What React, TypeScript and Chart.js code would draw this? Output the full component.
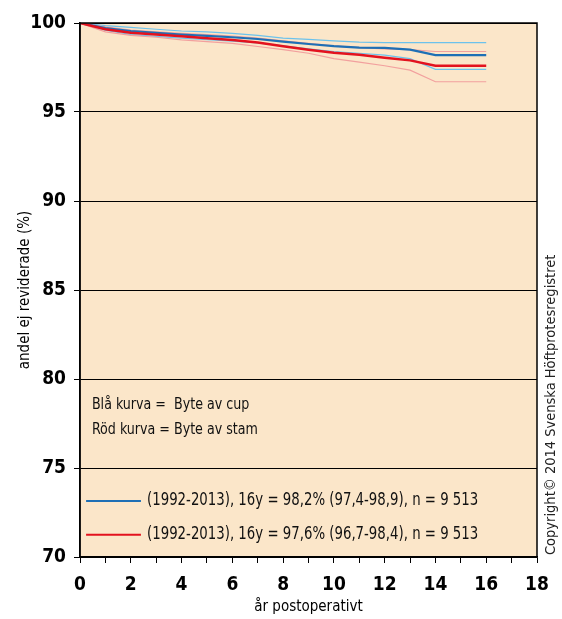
import React, { useEffect, useRef } from "react";
import { Chart, registerables } from "chart.js";

Chart.register(...registerables);

const years = [0, 1, 2, 3, 4, 5, 6, 7, 8, 9, 10, 11, 12, 13, 14, 15, 16];
const blueMain = [100, 99.72, 99.55, 99.45, 99.35, 99.28, 99.2, 99.1, 98.95, 98.82, 98.7, 98.62, 98.6, 98.5, 98.2, 98.2, 98.2];
const blueUpper = [100, 99.85, 99.75, 99.65, 99.55, 99.5, 99.42, 99.3, 99.15, 99.08, 99.0, 98.92, 98.9, 98.9, 98.9, 98.9, 98.9];
const blueLower = [100, 99.6, 99.35, 99.25, 99.15, 99.06, 98.98, 98.88, 98.72, 98.55, 98.4, 98.3, 98.2, 98.0, 97.4, 97.4, 97.4];
const redMain = [100, 99.65, 99.45, 99.35, 99.25, 99.15, 99.05, 98.9, 98.7, 98.5, 98.33, 98.22, 98.05, 97.9, 97.6, 97.6, 97.6];
const redUpper = [100, 99.78, 99.6, 99.5, 99.42, 99.35, 99.27, 99.15, 99.0, 98.85, 98.72, 98.62, 98.55, 98.5, 98.4, 98.4, 98.4];
const redLower = [100, 99.5, 99.3, 99.2, 99.05, 98.95, 98.85, 98.68, 98.5, 98.3, 98.0, 97.8, 97.6, 97.35, 96.7, 96.7, 96.7];

const legendLabels = [
  "(1992-2013), 16y = 98,2% (97,4-98,9), n = 9 513",
  "(1992-2013), 16y = 97,6% (96,7-98,4), n = 9 513",
];
const noteLines = ["Blå kurva =  Byte av cup", "Röd kurva = Byte av stam"];
const copyrightText = "Copyright© 2014 Svenska Höftprotesregistret";
const yTitle = "andel ej reviderade (%)";
const xTitle = "år postoperativt";

const FONT = "'Liberation Sans Narrow', 'DejaVu Sans Condensed', 'Roboto Condensed', sans-serif";
const BG = "#FBE6C9";
const BLUE = "#1E6FB5";
const BLUE_LIGHT = "#6CC2EC";
const RED = "#E3121E";
const RED_LIGHT = "#F2A09E";

const toXY = (arr: number[]) => arr.map((v, i) => ({ x: years[i], y: v }));

function narrowText(ctx: CanvasRenderingContext2D, text: string, x: number, y: number, sx: number) {
  ctx.save();
  ctx.translate(x, y);
  ctx.scale(sx, 1);
  ctx.fillText(text, 0, 0);
  ctx.restore();
}

const decorPlugin = {
  id: "decor",
  beforeDraw(chart: any) {
    const { ctx, chartArea } = chart;
    ctx.save();
    ctx.fillStyle = BG;
    ctx.fillRect(chartArea.left, chartArea.top, chartArea.right - chartArea.left, chartArea.bottom - chartArea.top);
    ctx.restore();
  },
  afterDraw(chart: any) {
    const { ctx, chartArea } = chart;
    const xs = chart.scales.x;
    const ys = chart.scales.y;
    ctx.save();
    // border
    ctx.strokeStyle = "#000";
    ctx.lineWidth = 1.5;
    ctx.strokeRect(chartArea.left, chartArea.top, chartArea.right - chartArea.left, chartArea.bottom - chartArea.top);

    // notes
    ctx.fillStyle = "#111";
    ctx.font = `16px ${FONT}`;
    ctx.textBaseline = "middle";
    ctx.textAlign = "left";
    narrowText(ctx, noteLines[0], xs.getPixelForValue(0.47), ys.getPixelForValue(78.55), 0.88);
    narrowText(ctx, noteLines[1], xs.getPixelForValue(0.47), ys.getPixelForValue(77.15), 0.88);

    // legend
    const legendColors = [BLUE, RED];
    const legendY = [73.15, 71.25];
    ctx.font = `17px ${FONT}`;
    legendLabels.forEach((lab, i) => {
      const y = ys.getPixelForValue(legendY[i]);
      ctx.strokeStyle = legendColors[i];
      ctx.lineWidth = 2;
      ctx.beginPath();
      ctx.moveTo(xs.getPixelForValue(0.24), y);
      ctx.lineTo(xs.getPixelForValue(2.4), y);
      ctx.stroke();
      ctx.fillStyle = "#111";
      narrowText(ctx, lab, xs.getPixelForValue(2.64), y, 0.87);
    });

    // copyright
    ctx.translate(chart.width - 11, chartArea.bottom - 2);
    ctx.rotate(-Math.PI / 2);
    ctx.font = `14.5px ${FONT}`;
    ctx.fillStyle = "#222";
    ctx.textAlign = "left";
    ctx.textBaseline = "middle";
    ctx.fillText(copyrightText, 0, 0);
    ctx.restore();
  },
};

export default function App() {
  const ref = useRef<HTMLCanvasElement | null>(null);

  useEffect(() => {
    if (!ref.current) return;
    const lineDs = (label: string, data: number[], color: string, width: number, order: number) => ({
      label,
      data: toXY(data),
      borderColor: color,
      backgroundColor: color,
      borderWidth: width,
      pointRadius: 0,
      tension: 0,
      fill: false,
      order,
    });
    const chart = new Chart(ref.current, {
      type: "line",
      data: {
        datasets: [
          lineDs("redMain", redMain, RED, 2.5, 0),
          lineDs("blueMain", blueMain, BLUE, 2.2, 1),
          lineDs("redUpper", redUpper, RED_LIGHT, 1.2, 2),
          lineDs("redLower", redLower, RED_LIGHT, 1.2, 3),
          lineDs("blueUpper", blueUpper, BLUE_LIGHT, 1.2, 4),
          lineDs("blueLower", blueLower, BLUE_LIGHT, 1.2, 5),
        ],
      },
      plugins: [decorPlugin],
      options: {
        animation: false,
        responsive: false,
        maintainAspectRatio: false,
        layout: { padding: { top: 23, right: 25, left: 0, bottom: 0 } },
        plugins: { legend: { display: false }, tooltip: { enabled: false } },
        scales: {
          x: {
            type: "linear",
            min: 0,
            max: 18,
            afterFit: (s: any) => {
              s.height = 62;
            },
            ticks: {
              stepSize: 1,
              autoSkip: false,
              maxRotation: 0,
              color: "#000",
              padding: 11,
              font: { family: FONT, size: 19, weight: "bold" },
              callback: (v: any) => (Number(v) % 2 === 0 ? String(v) : ""),
            },
            grid: { drawOnChartArea: false, drawTicks: true, tickLength: 6, color: "#000", lineWidth: 1 },
            border: { color: "#000", width: 1.5 },
            title: {
              display: true,
              text: xTitle,
              color: "#000",
              font: { family: FONT, size: 15 },
              padding: { top: 0, bottom: 3 },
            },
          },
          y: {
            min: 70,
            max: 100,
            afterFit: (s: any) => {
              s.width = 80;
            },
            ticks: {
              stepSize: 5,
              color: "#000",
              padding: 8,
              font: { family: FONT, size: 19, weight: "bold" },
            },
            grid: { drawOnChartArea: true, drawTicks: true, tickLength: 6, color: "#000", lineWidth: 1 },
            border: { color: "#000", width: 1.5 },
            title: {
              display: true,
              text: yTitle,
              color: "#000",
              font: { family: FONT, size: 15 },
              padding: { top: 16, bottom: 0 },
            },
          },
        },
      },
    } as any);
    return () => chart.destroy();
  }, []);

  return (
    <div style={{ position: "fixed", left: 0, top: 0, width: 562, height: 619, background: "#fff" }}>
      <canvas ref={ref} width={562} height={619} style={{ width: 562, height: 619, display: "block" }} />
    </div>
  );
}
